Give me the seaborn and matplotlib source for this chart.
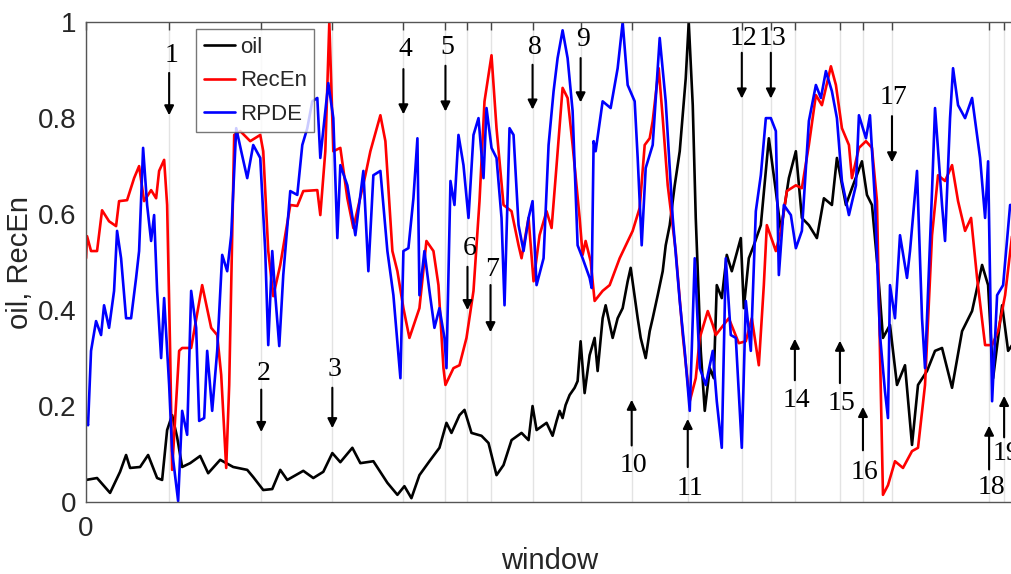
import matplotlib
matplotlib.use("Agg")
import matplotlib.pyplot as plt
import numpy as np
import pandas as pd
import seaborn as sns

# oil price (normalised) per window
oil_x = [0, 11, 24, 34, 40, 44, 54, 62, 71, 76, 81, 86, 91, 96, 104, 114, 122, 134, 147, 161,
         167, 177, 186, 194, 201, 217, 227, 237, 246, 254, 266, 274, 287, 301, 311, 318, 325, 333, 343, 353,
         360, 365, 373, 378, 385, 395, 402, 410, 417, 425, 435, 442, 446, 450, 460, 466, 470, 473, 476, 479,
         483, 488, 491, 494, 498, 503, 508, 511, 516, 519, 526, 531, 536, 541, 544, 551, 554, 559, 563, 566,
         571, 576, 579, 583, 588, 593, 599, 602, 606, 609, 614, 618, 623,
         627, 630, 635, 640, 645, 654, 657, 662, 667, 674, 682, 689, 694, 702, 709, 715, 722, 730, 737, 745,
         750, 759, 765, 775, 780, 785, 791, 796, 803, 810, 818, 825, 831, 840, 848, 855, 865, 875, 885, 895,
         901, 906, 915, 921, 925]
oil_y = [0.046, 0.050, 0.019, 0.063, 0.098, 0.071, 0.073, 0.098, 0.050, 0.046, 0.150, 0.181, 0.135, 0.073, 0.081,
         0.096, 0.060, 0.088, 0.073, 0.067, 0.052, 0.025, 0.027, 0.067, 0.046, 0.065, 0.050, 0.063, 0.102, 0.083,
         0.113, 0.081, 0.085, 0.040, 0.015, 0.033, 0.008, 0.056, 0.085, 0.113, 0.165, 0.144, 0.181, 0.192, 0.144,
         0.138, 0.123, 0.056, 0.077, 0.129, 0.144, 0.129, 0.200, 0.150, 0.165, 0.138, 0.169, 0.190, 0.175, 0.202,
         0.223, 0.238, 0.252, 0.335, 0.227, 0.306, 0.342, 0.273, 0.383, 0.410, 0.342, 0.383, 0.404, 0.460, 0.488,
         0.383, 0.342, 0.300, 0.356, 0.383, 0.431, 0.481, 0.535, 0.577, 0.660, 0.731, 0.883, 1.0,
         0.827, 0.592, 0.315, 0.190, 0.279, 0.258, 0.452, 0.425, 0.515, 0.481, 0.550, 0.404, 0.508, 0.535, 0.577,
         0.758, 0.648, 0.565, 0.675, 0.731, 0.592, 0.577, 0.550, 0.633, 0.619, 0.717, 0.619, 0.654, 0.710, 0.640,
         0.619, 0.481, 0.342, 0.369, 0.244, 0.285, 0.119, 0.244, 0.273, 0.315, 0.321, 0.238, 0.356, 0.398, 0.494,
         0.452, 0.258, 0.410, 0.315, 0.327]

# recurrence entropy per window
rec_x = [0, 1, 5, 11, 16, 23, 30, 33, 41, 48, 53, 58, 65, 70, 73, 78, 81, 84, 86, 93,
         96, 105, 116, 125, 131, 135, 140, 143, 148, 154, 164, 174, 177, 182, 187, 194, 204, 211, 217, 231,
         234, 239, 243, 247, 254, 261, 267, 279, 284, 294, 299, 306, 311, 317, 323, 328, 333, 340, 347, 352,
         357, 359, 367, 373, 380, 387, 393, 398, 405, 410, 417, 425, 432, 435, 442, 447, 453, 460, 465, 470,
         476, 481, 486, 493, 496, 499, 504, 508, 516, 523, 533, 546, 553, 558, 563, 566, 572, 576, 581, 589,
         596, 603, 609, 613, 621, 626, 629, 642, 652, 659, 665, 672, 677, 680, 689, 694, 700, 709, 715, 722,
         729, 735, 744, 749, 755, 762, 765, 772, 779, 785, 790, 793, 796, 801, 808, 816, 825, 831, 838, 845,
         851, 858, 865, 871, 878, 884, 890, 898, 905, 911, 918, 925]
rec_y = [0.508, 0.554, 0.523, 0.523, 0.608, 0.585, 0.575, 0.627, 0.629, 0.675, 0.700, 0.627, 0.650, 0.633, 0.690,
         0.713, 0.619, 0.315, 0.067, 0.315, 0.321, 0.321, 0.452, 0.363, 0.348, 0.265, 0.071, 0.244, 0.765, 0.773,
         0.752, 0.765, 0.731, 0.523, 0.429, 0.494, 0.619, 0.617, 0.648, 0.650, 0.598, 0.731, 1.0, 0.731, 0.738,
         0.633, 0.571, 0.681, 0.731, 0.806, 0.752, 0.523, 0.481, 0.404, 0.342, 0.373, 0.404, 0.544, 0.523, 0.452,
         0.279, 0.244, 0.279, 0.285, 0.342, 0.440, 0.627, 0.835, 0.931, 0.779, 0.619, 0.606, 0.535, 0.508, 0.592,
         0.460, 0.556, 0.606, 0.571, 0.702, 0.863, 0.842, 0.744, 0.592, 0.515, 0.544, 0.502, 0.419, 0.440, 0.452,
         0.508, 0.565, 0.613, 0.744, 0.758, 0.794, 0.904, 0.800, 0.660, 0.523, 0.348, 0.210, 0.258, 0.342, 0.398,
         0.369, 0.348, 0.383, 0.331, 0.335, 0.383, 0.285, 0.452, 0.577, 0.523, 0.565, 0.648, 0.660, 0.654, 0.744,
         0.848, 0.827, 0.908, 0.869, 0.779, 0.744, 0.675, 0.738, 0.752, 0.738, 0.627, 0.315, 0.015, 0.035, 0.085,
         0.071, 0.106, 0.113, 0.244, 0.556, 0.681, 0.669, 0.702, 0.627, 0.565, 0.592, 0.467, 0.327, 0.327, 0.356,
         0.431, 0.556]

# recurrence period density entropy per window
rpde_x = [0, 2, 5, 10, 15, 18, 23, 28, 31, 35, 40, 45, 50, 53, 57, 61, 65, 68, 71, 75,
          78, 83, 86, 92, 96, 101, 105, 110, 113, 118, 121, 126, 131, 136, 141, 145, 150, 155, 161, 167,
          174, 179, 182, 186, 189, 193, 197, 204, 211, 216, 221, 226, 231, 234, 239, 242, 247, 251, 254, 261,
          269, 277, 282, 287, 294, 301, 307, 314, 317, 322, 327, 331, 333, 338, 343, 348, 353, 358, 360, 364,
          368, 372, 377, 382, 387, 392, 397, 400, 405, 410, 415, 418, 423, 427, 432, 437, 442, 446, 450, 457,
          462, 467, 471, 476, 481, 486, 491, 496, 503, 505, 507, 509, 516, 524, 531, 536, 541, 548, 551, 555,
          559, 566, 573, 579, 586, 593, 598, 603, 608, 613, 619, 626, 630, 635, 639, 644, 649, 654, 655, 659,
          664, 669, 674, 679, 684, 689, 692, 697, 704, 709, 715, 722, 729, 734, 739, 745, 750, 755, 762, 769,
          772, 779, 783, 788, 793, 798, 801, 803, 808, 813, 820, 823, 830, 835, 838, 845, 848, 855, 858, 863,
          866, 871, 878, 885, 893, 898, 901, 905, 910, 916, 923, 925]
rpde_y = [0.175, 0.160, 0.315, 0.377, 0.348, 0.410, 0.363, 0.440, 0.565, 0.508, 0.383, 0.383, 0.467, 0.523, 0.738,
          0.619, 0.544, 0.598, 0.440, 0.300, 0.425, 0.244, 0.106, 0.002, 0.190, 0.140, 0.440, 0.363, 0.169, 0.175,
          0.315, 0.190, 0.315, 0.515, 0.481, 0.556, 0.779, 0.731, 0.675, 0.744, 0.717, 0.523, 0.327, 0.523, 0.431,
          0.325, 0.473, 0.648, 0.640, 0.744, 0.779, 0.835, 0.842, 0.717, 0.815, 0.873, 0.800, 0.550, 0.702, 0.660,
          0.556, 0.690, 0.481, 0.681, 0.690, 0.523, 0.431, 0.258, 0.523, 0.529, 0.633, 0.758, 0.431, 0.523, 0.440,
          0.363, 0.404, 0.342, 0.279, 0.669, 0.619, 0.765, 0.702, 0.592, 0.765, 0.800, 0.675, 0.821, 0.738, 0.717,
          0.592, 0.410, 0.779, 0.765, 0.577, 0.523, 0.592, 0.627, 0.452, 0.508, 0.744, 0.856, 0.925, 0.983, 0.925,
          0.815, 0.535, 0.508, 0.467, 0.446, 0.752, 0.731, 0.835, 0.821, 0.904, 1.0, 0.869, 0.835, 0.717, 0.535,
          0.696, 0.744, 0.967, 0.835, 0.592, 0.419, 0.315, 0.190, 0.508, 0.279, 0.244, 0.315, 0.210, 0.113, 0.508,
          0.348, 0.342, 0.148, 0.113, 0.419, 0.315, 0.606, 0.681, 0.800, 0.800, 0.773, 0.473, 0.619, 0.598, 0.529,
          0.565, 0.794, 0.869, 0.842, 0.898, 0.856, 0.800, 0.669, 0.598, 0.660, 0.806, 0.758, 0.806, 0.627, 0.348,
          0.231, 0.175, 0.452, 0.383, 0.556, 0.467, 0.523, 0.690, 0.383, 0.279, 0.648, 0.821, 0.619, 0.544, 0.800,
          0.904, 0.827, 0.800, 0.842, 0.717, 0.592, 0.710, 0.210, 0.431, 0.452, 0.619, 0.619]

# marked events (window index) and their labels
event_x = [83, 175, 246, 317, 359, 381, 404, 446, 494, 545, 601, 655, 684, 708, 753, 776, 805, 902, 917]
event_labels = [str(i) for i in range(1, 20)]

# where each label / arrow sits: (text y, arrow tail y, arrow tip y)
event_layout = [(0.931, 0.900, 0.800), (0.267, 0.240, 0.140), (0.277, 0.244, 0.148),
                (0.942, 0.908, 0.802), (0.948, 0.915, 0.808), (0.529, 0.496, 0.394),
                (0.485, 0.458, 0.348), (0.948, 0.917, 0.812), (0.963, 0.931, 0.827),
                (0.077, 0.112, 0.219), (0.029, 0.067, 0.179), (0.965, 0.942, 0.835),
                (0.965, 0.942, 0.835), (0.212, 0.248, 0.346), (0.206, 0.242, 0.342),
                (0.062, 0.102, 0.204), (0.842, 0.810, 0.702), (0.031, 0.062, 0.165),
                (0.102, 0.129, 0.227)]

sns.set_style("white")
plt.rcParams['font.family'] = ['Liberation Sans', 'DejaVu Sans']

fig = plt.figure(figsize=(10.11, 5.74), dpi=100)
ax = fig.add_axes([0.0851, 0.1254, 0.917, 0.836])

series = [("oil", oil_x, oil_y, "black"),
          ("RecEn", rec_x, rec_y, "red"),
          ("RPDE", rpde_x, rpde_y, "blue")]
for name, xs, ys, color in series:
    df = pd.DataFrame({"window": xs, "value": ys})
    sns.lineplot(data=df, x="window", y="value", color=color, lw=1.9, label=name,
                 ax=ax, estimator=None, sort=False)

ax.set_xlim(0, 926)
ax.set_ylim(0, 1)
ax.set_xticks([0] + event_x)
ax.set_xticklabels(["0"] + [""] * len(event_x))
ax.set_yticks([0, 0.2, 0.4, 0.6, 0.8, 1.0])
ax.set_yticklabels(["0", "0.2", "0.4", "0.6", "0.8", "1"])
ax.tick_params(axis="both", direction="in", length=6, width=1, colors="#444444",
               labelsize=20, labelcolor="#262626", top=True, right=False)
ax.tick_params(axis="x", pad=10)
ax.tick_params(axis="y", pad=7)
for sp in ax.spines.values():
    sp.set_color("#555555")
    sp.set_linewidth(1)
ax.grid(axis="x", color="#e3e3e3", lw=1)
ax.set_axisbelow(True)

ax.set_xlabel("window", fontsize=21, color="#262626", labelpad=4)
ax.set_ylabel("oil, RecEn", fontsize=21, color="#262626", labelpad=3)

for ex, lab, (ty, tail, tip) in zip(event_x, event_labels, event_layout):
    ax.annotate("", xy=(ex, tip), xytext=(ex, tail),
                arrowprops=dict(arrowstyle="-|>", color="black", lw=1.5, mutation_scale=14))
    ax.text(ex + 2, ty, lab, ha="center", va="center", fontsize=20,
            family="Liberation Serif", color="black")

leg = ax.legend(loc="upper left", bbox_to_anchor=(0.119, 0.985), fontsize=16, frameon=True,
                fancybox=False, edgecolor="#555555", handlelength=1.4, handletextpad=0.2,
                labelspacing=0.55, borderpad=0.35, borderaxespad=0)
leg.get_frame().set_linewidth(1)

fig.savefig("out.png", dpi=100)
